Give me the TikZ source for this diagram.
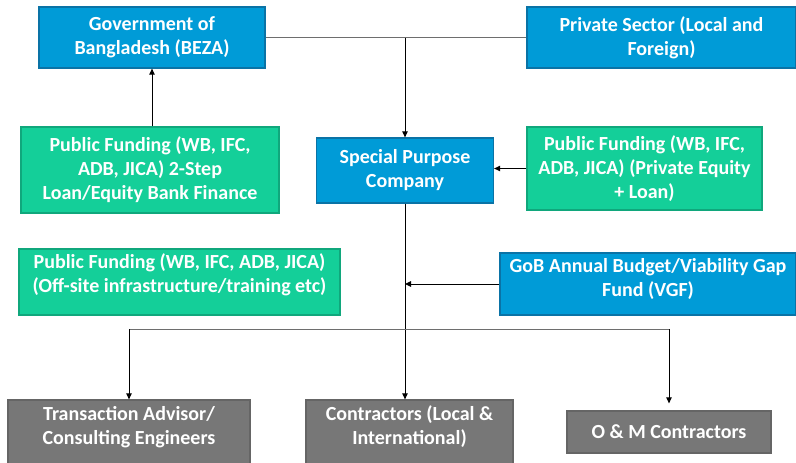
\documentclass[tikz,border=0pt]{standalone}
\usepackage{fontspec}
\setmainfont{Carlito}
\usepackage{tikz}
\usetikzlibrary{arrows.meta, positioning, calc}
\definecolor{bezaBlue}{HTML}{009BD7}
\definecolor{bezaBlueEdge}{HTML}{0A73A6}
\definecolor{fundGreen}{HTML}{14CF99}
\definecolor{fundGreenEdge}{HTML}{10A77C}
\definecolor{workGray}{HTML}{777777}
\definecolor{linkGray}{HTML}{6E6E6E}

% extra depth under the last line pushes the text up inside its box
\newcommand{\liftby}[1]{\rule[-#1]{0pt}{0pt}}

\begin{document}
\begin{tikzpicture}[
    x=1pt, y=-1pt,
    region/.style={draw, line width=1.3pt, align=center, text=white, inner sep=2pt,
        font=\fontsize{20}{24}\selectfont\bfseries},
    govbox/.style={region, fill=bezaBlue, draw=bezaBlueEdge},
    fundbox/.style={region, fill=fundGreen, draw=fundGreenEdge},
    workbox/.style={region, fill=workGray, draw=workGray!85!black},
    link/.style={line width=1pt, draw=linkGray},
    flow/.style={line width=1pt, draw=black, -{Triangle[length=6pt, width=5.5pt]}},
]
    \useasboundingbox (0,0) rectangle (796,463);

    % Owners
    \node[govbox, minimum width=226, minimum height=61] (gov) at (152, 37.5) {Government of\\Bangladesh (BEZA)};
    \node[govbox, minimum width=269, minimum height=61] (private) at (661.5, 37.5) {Private Sector (Local and\\Foreign)};

    % SPC and its funding
    \node[govbox, minimum width=177, minimum height=65] (spc) at (405, 170.5) {Special Purpose\\Company};
    \node[fundbox, minimum width=258, minimum height=86] (loan) at (150, 170) {Public Funding (WB, IFC,\\ADB, JICA) 2-Step\\Loan/Equity Bank Finance};
    \node[fundbox, minimum width=235, minimum height=83] (equity) at (644.5, 168.5) {Public Funding (WB, IFC,\\ADB, JICA) (Private Equity\\+ Loan)};
    \node[fundbox, minimum width=321, minimum height=66] (offsite) at (179.5, 282) {Public Funding (WB, IFC, ADB, JICA)\\(Off-site infrastructure/training etc)\liftby{18pt}};
    \node[govbox, minimum width=296, minimum height=62] (vgf) at (648, 284) {GoB Annual Budget/Viability Gap\\Fund (VGF)\liftby{13pt}};

    % Contractors
    \node[workbox, minimum width=242, minimum height=66] (advisor) at (129, 433) {Transaction Advisor/\\Consulting Engineers\liftby{16pt}};
    \node[workbox, minimum width=207, minimum height=66] (builders) at (409.5, 433) {Contractors (Local \&\\International)\liftby{16pt}};
    \node[workbox, minimum width=204, minimum height=42] (operators) at (669, 432) {O \& M Contractors};

    % Connectors
    \draw[link] (gov.east) -- (private.west);
    \draw[flow] (spc.north |- gov.east) -- (spc.north);
    \draw[flow] (loan.north -| gov.south) -- (gov.south);
    \draw[flow] (equity.west) -- (equity.west -| spc.east);
    \draw[flow] (spc.south) -- (spc.south |- builders.north);
    \draw[flow] (vgf.west) -- (vgf.west -| spc.south);

    \coordinate (fork) at ($(spc.south)!0.5!(spc.south |- builders.north)$);
    \coordinate (fork) at (fork |- 0,329);
    \draw[link] (fork -| advisor.north) -- (fork -| operators.north);
    \draw[flow] (fork -| advisor.north) -- (advisor.north);
    \draw[flow, shorten >=7pt] (fork -| operators.north) -- (operators.north);
\end{tikzpicture}
\end{document}
